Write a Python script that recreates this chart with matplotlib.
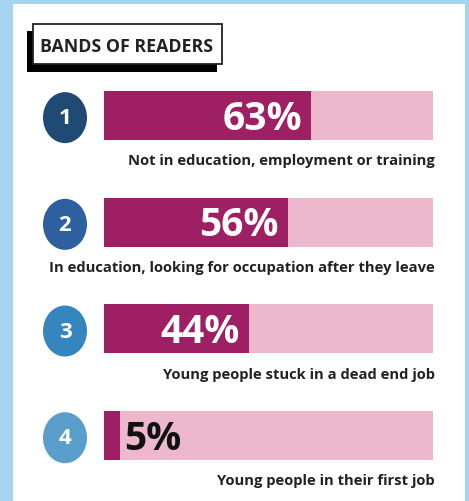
import matplotlib
matplotlib.use("Agg")
import matplotlib.pyplot as plt
from matplotlib.patches import Ellipse, Rectangle

plt.rcParams["font.family"] = ["Open Sans", "DejaVu Sans"]

# --- data ---
ranks = ["1", "2", "3", "4"]
values = [63, 56, 44, 5]
labels = [
    "Not in education, employment or training",
    "In education, looking for occupation after they leave",
    "Young people stuck in a dead end job",
    "Young people in their first job",
]
title = "BANDS OF READERS"

# colours
BORDER = "#a5d4f0"
DARK = "#9e1f63"
LIGHT = "#edb8cc"
CIRCLES = ["#1f4a73", "#2e5f9e", "#3585bf", "#5a9fcc"]

W, H = 469, 502
fig = plt.figure(figsize=(W / 100, H / 100), dpi=100)
fig.patch.set_facecolor(BORDER)

# background layer in pixel units (panel + title box)
bg = fig.add_axes([0, 0, 1, 1])
bg.set_xlim(0, W)
bg.set_ylim(H, 0)
bg.axis("off")
bg.add_patch(Rectangle((13, 5), 452, 500, facecolor="white", edgecolor="none"))
bg.add_patch(Rectangle((27, 32), 190, 41, facecolor="black", edgecolor="none"))
bg.add_patch(Rectangle((33, 25), 189, 40, facecolor="white", edgecolor="#222222", lw=1.3))
bg.text(127, 46.5, title, ha="center", va="center", fontsize=12.8, fontweight="bold",
        color="#222222")

# bar layer: x in percent, y in rows
x0, x1 = 104, 432.7
row = 106.7
top = 116.5 - row / 2
ax = fig.add_axes([x0 / W, 1 - (top + 4 * row) / H, (x1 - x0) / W, 4 * row / H])
ax.set_xlim(0, 100)
ax.set_ylim(3.5, -0.5)
ax.axis("off")

ypos = list(range(len(values)))
bar_h = 49 / row
ax.barh(ypos, [100] * len(values), height=bar_h, color=LIGHT)
ax.barh(ypos, values, height=bar_h, color=DARK)

px_x = 100 / (x1 - x0)  # data units per pixel (x)
for i, (r, v, lab, c) in enumerate(zip(ranks, values, labels, CIRCLES)):
    cx = (65 - x0) * px_x
    ax.add_patch(Ellipse((cx, i + 0.02), 44 * px_x, 51 / row, facecolor=c,
                         edgecolor="none", clip_on=False))
    ax.text(cx, i + 0.02, r, ha="center", va="center", fontsize=16,
            fontweight="bold", color="white", clip_on=False)
    if v >= 20:
        ax.annotate(f"{v}%", (v, i), xytext=(-6.5, -2), textcoords="offset points",
                    ha="right", va="center", fontsize=28, fontweight="bold",
                    color="white")
    else:
        ax.annotate(f"{v}%", (v, i), xytext=(3, -2), textcoords="offset points",
                    ha="left", va="center", fontsize=28, fontweight="bold",
                    color="#111111")
    ax.text(100.7, i + 0.42, lab, ha="right", va="center", fontsize=10.6,
            fontweight="bold", color="#222222", clip_on=False)

fig.savefig("out.png", dpi=100, facecolor=BORDER)
